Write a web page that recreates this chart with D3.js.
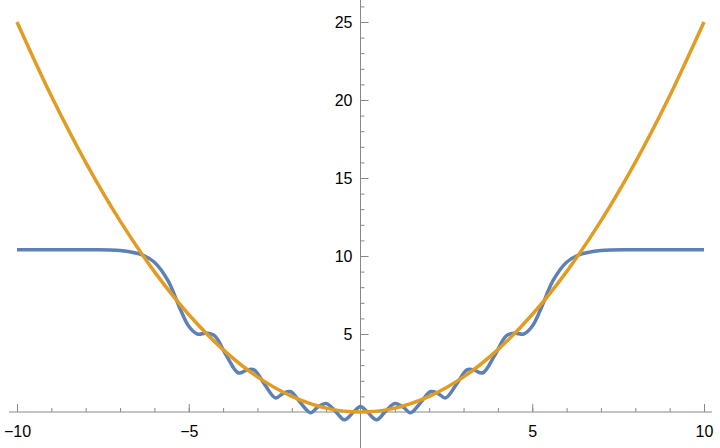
<!doctype html>
<html>
  <head>
    <script src="https://cdnjs.cloudflare.com/ajax/libs/d3/7.8.5/d3.min.js"></script>
    <style>
      body { margin: 0; background: #fff; }
      path.line { fill: none; stroke-width: 3.5; }
      .axis path, .axis line { stroke: #888; }
      .axis text { font-family: "Liberation Sans", Arial, sans-serif; font-size: 16px; fill: #000; }
    </style>
  </head>
  <body>
    <svg width="720" height="448"></svg>
    <script>
      var blueX = [-10, -8, -7, -6.4, -6, -5.6, -5.25, -5, -4.75, -4.5, -4.25, -3.9, -3.55, -3.3, -3.1, -2.8, -2.47, -2.25, -2.03, -1.75, -1.45, -1.25, -1, -0.75, -0.47, -0.2,
                   0, 0.2, 0.47, 0.75, 1, 1.25, 1.45, 1.75, 2.03, 2.25, 2.47, 2.8, 3.1, 3.3, 3.55, 3.9, 4.25, 4.5, 4.75, 5, 5.25, 5.6, 6, 6.4, 7, 8, 10];
      var blueY = [10.4, 10.4, 10.35, 10.1, 9.6, 8.4, 6.6, 5.5, 5.0, 5.05, 4.9, 3.6, 2.5, 2.7, 2.7, 1.8, 0.9, 1.2, 1.3, 0.6, -0.05, 0.3, 0.55, 0.1, -0.5, 0.0,
                   0.35, 0.0, -0.5, 0.1, 0.55, 0.3, -0.05, 0.6, 1.3, 1.2, 0.9, 1.8, 2.7, 2.7, 2.5, 3.6, 4.9, 5.05, 5.0, 5.5, 6.6, 8.4, 9.6, 10.1, 10.35, 10.4, 10.4];
      var orangeX = [-10, -9, -8, -7, -6, -5, -4, -3, -2, -1, 0, 1, 2, 3, 4, 5, 6, 7, 8, 9, 10];
      var orangeY = [25, 20.25, 16, 12.25, 9, 6.25, 4, 2.25, 1, 0.25, 0, 0.25, 1, 2.25, 4, 6.25, 9, 12.25, 16, 20.25, 25];
      var xTicks = [-10, -5, 5, 10];
      var yTicks = [5, 10, 15, 20, 25];

      var svg = d3.select("svg");
      var x = d3.scaleLinear().domain([-10, 10]).range([17, 704]);
      var y = d3.scaleLinear().domain([0, 25]).range([412, 22]);

      var xMinor = d3.range(-10, 10.5, 1).filter(d => d !== 0);
      var yMinor = d3.range(1, 27, 1);

      svg.append("g").attr("class", "axis")
        .attr("transform", "translate(0," + y(0) + ")")
        .call(d3.axisBottom(x).tickValues(xMinor).tickSize(-4).tickFormat("").tickSizeOuter(0))
        .call(g => g.select(".domain").attr("d", "M" + (x(-10) - 8) + ",0H" + (x(10) + 8)));
      svg.append("g").attr("class", "axis")
        .attr("transform", "translate(0," + y(0) + ")")
        .call(d3.axisBottom(x).tickValues(xTicks).tickSize(-8).tickPadding(14).tickFormat(d => d < 0 ? "\u2212" + (-d) : d))
        .call(g => g.select(".domain").remove());

      svg.append("g").attr("class", "axis")
        .attr("transform", "translate(" + x(0) + ",0)")
        .call(d3.axisLeft(y).tickValues(yMinor).tickSize(-4).tickFormat("").tickSizeOuter(0))
        .call(g => g.select(".domain").attr("d", "M0,0V448"));
      svg.append("g").attr("class", "axis")
        .attr("transform", "translate(" + x(0) + ",0)")
        .call(d3.axisLeft(y).tickValues(yTicks).tickSize(-8).tickPadding(8))
        .call(g => g.select(".domain").remove());

      var line = d3.line().x(d => x(d[0])).y(d => y(d[1])).curve(d3.curveCatmullRom);
      var orange = orangeX.map((d, i) => [d, orangeY[i]]);
      var blue = blueX.map((d, i) => [d, blueY[i]]);

      svg.append("path").datum(blue).attr("class", "line")
        .attr("stroke", "#5E81B5").attr("d", line);
      svg.append("path").datum(orange).attr("class", "line")
        .attr("stroke", "#E19C24").attr("d", line);
    </script>
  </body>
</html>
